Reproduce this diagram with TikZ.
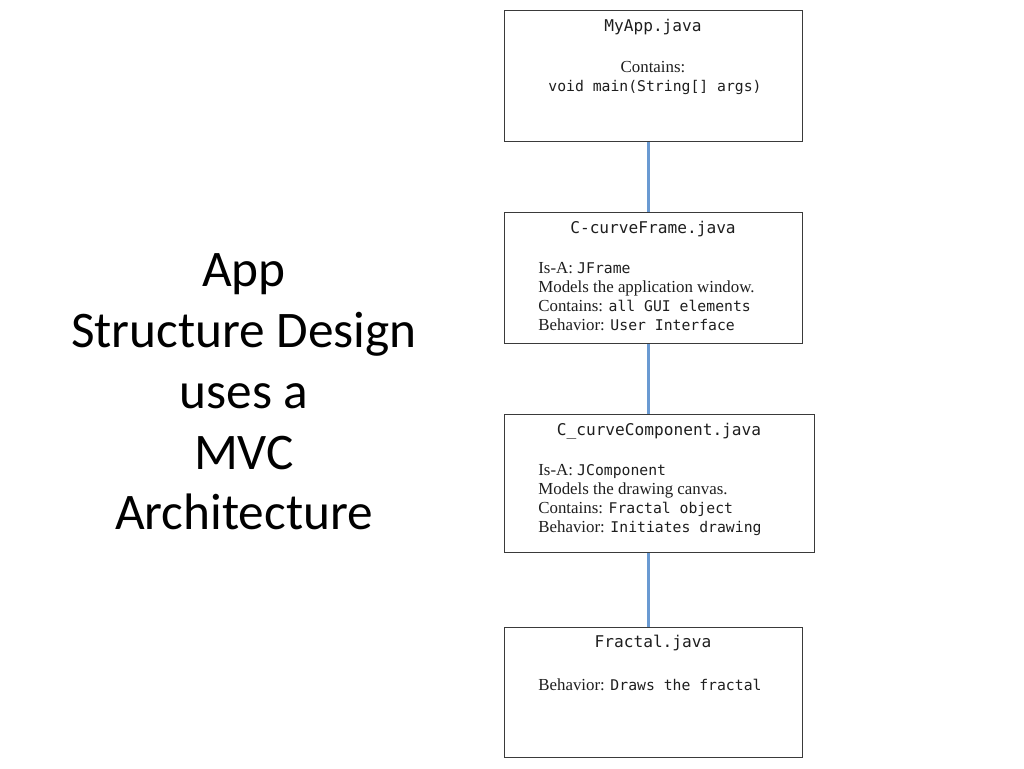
\documentclass[tikz,border=0pt]{standalone}
\usepackage{fontspec}
\setmainfont{Liberation Serif}
\setmonofont{DejaVu Sans Mono}
\newfontfamily\slidefont{Carlito}
\usetikzlibrary{positioning, calc}
\definecolor{linkblue}{HTML}{6A9AD2}
\definecolor{boxgray}{HTML}{3A3A3A}
\definecolor{inkgray}{HTML}{1E1E1E}
\newcommand{\jcode}[1]{{\fontsize{8.4}{10.8}\selectfont\ttfamily #1}}

\begin{document}
\begin{tikzpicture}[x=0.02cm, y=-0.02cm,
  filebox/.style={draw=boxgray, line width=0.8pt, anchor=north west, inner sep=0pt},
  filename/.style={text=inkgray, font=\fontsize{9.2}{10.8}\selectfont\ttfamily},
  filetext/.style={text=inkgray, anchor=north west, inner sep=0pt, align=left,
    font=\fontsize{9.6}{10.8}\selectfont},
  link/.style={linkblue, line width=1.7pt}]

\useasboundingbox (0,0) rectangle (1024,768);

% Heading on the left
\node[align=center, text=black, font=\slidefont\fontsize{29.2}{34.6}\selectfont] (heading) at (244,392)
  {App\\Structure Design\\uses a\\MVC\\Architecture};

% File boxes
\node[filebox, minimum width=5.96cm, minimum height=2.62cm] (myapp) at (504,10) {};
\node[filebox, minimum width=5.96cm, minimum height=2.62cm] (frame) at (504,212) {};
\node[filebox, minimum width=6.20cm, minimum height=2.76cm] (component) at (504,414) {};
\node[filebox, minimum width=5.96cm, minimum height=2.60cm] (fractal) at (504,627) {};

% MyApp.java
\node[filename] (myappname) at (653,27) {MyApp.java};
\node[text=inkgray, font=\fontsize{9.6}{10.8}\selectfont] (myappcont) at (653,67) {Contains:};
\node[text=inkgray] (myappmain) at (655,87) {\jcode{void main(String[] args)}};

% C-curveFrame.java
\node[filename] (framename) at (653,229) {C-curveFrame.java};
\node[filetext] (frametext) at (538,262)
  {Is-A: \jcode{JFrame}\\
   Models the application window.\\
   Contains: \jcode{all GUI elements}\\
   Behavior: \jcode{User Interface}};

% C_curveComponent.java
\node[filename] (compname) at (659,431) {C\_curveComponent.java};
\node[filetext] (comptext) at (538,464)
  {Is-A: \jcode{JComponent}\\
   Models the drawing canvas.\\
   Contains: \jcode{Fractal object}\\
   Behavior: \jcode{Initiates drawing}};

% Fractal.java
\node[filename] (fractalname) at (653,643) {Fractal.java};
\node[filetext] (fractaltext) at (538,678) {Behavior: \jcode{Draws the fractal}};

% Connectors
\coordinate (axis) at (648,0);
\draw[link] (myapp.south -| axis) -- (frame.north -| axis);
\draw[link] (frame.south -| axis) -- (component.north -| axis);
\draw[link] (component.south -| axis) -- (fractal.north -| axis);

\end{tikzpicture}
\end{document}
